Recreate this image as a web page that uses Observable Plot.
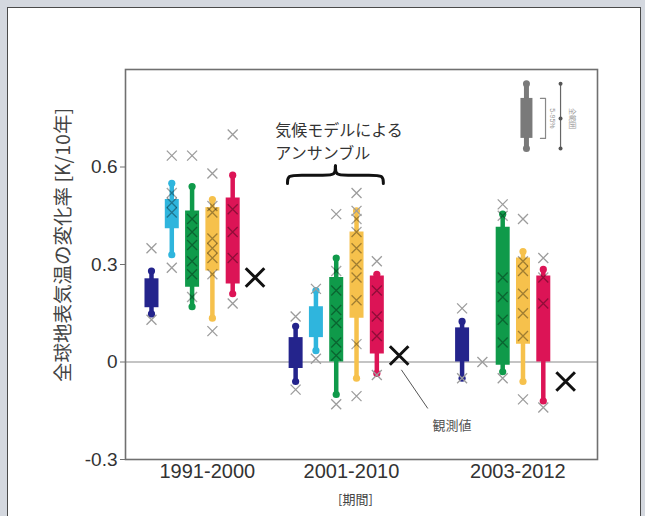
<!DOCTYPE html>
<html><head><meta charset="utf-8">
<script src="https://cdn.jsdelivr.net/npm/d3@7"></script>
<script src="https://cdn.jsdelivr.net/npm/@observablehq/plot@0.6"></script>
<style>
html,body{margin:0;padding:0;width:645px;height:516px;overflow:hidden;background:#d4d8df;}
#panel{position:absolute;left:7px;top:7px;width:632px;height:520px;background:#fff;border:1px solid #4a4a4a;}
#chart{position:absolute;left:0;top:0;}
</style></head><body>
<div id="panel"></div><div id="chart"></div>
<script>
// ---- data ----
const periods = ["1991-2000", "2001-2010", "2003-2012"];
const ensembleColors = ["#24248c", "#2fb5dd", "#0f9a4a", "#f6c14c", "#dc1456"];
// per period, per ensemble (null = no ensemble)
const boxMax  = [[0.28, 0.55, 0.54, 0.50, 0.575], [0.11, 0.22, 0.32, 0.465, 0.27], [0.125, null, 0.455, 0.34, 0.285]];
const boxHigh = [[0.256, 0.50, 0.465, 0.475, 0.505], [0.075, 0.17, 0.26, 0.40, 0.265], [0.105, null, 0.415, 0.32, 0.265]];
const boxLow  = [[0.167, 0.41, 0.23, 0.28, 0.24], [-0.02, 0.075, 0.0, 0.135, 0.025], [0.0, null, -0.01, 0.055, 0.0]];
const boxMin  = [[0.148, 0.33, 0.17, 0.135, 0.21], [-0.06, 0.035, -0.10, -0.05, -0.035], [-0.05, null, -0.03, -0.06, -0.12]];
// individual model runs outside the ranges: [period, ensemble, value]
const outlierRuns = [
  [0,0,0.35],[0,0,0.13],[0,1,0.635],[0,1,0.29],[0,2,0.635],[0,3,0.58],[0,3,0.095],[0,4,0.70],[0,4,0.18],
  [1,0,0.14],[1,0,-0.085],[1,1,0.225],[1,1,0.01],[1,2,0.455],[1,2,-0.13],[1,3,0.52],[1,3,0.465],[1,3,-0.105],[1,4,0.31],[1,4,-0.04],
  [2,0,0.165],[2,0,-0.05],[2,1,0.0],[2,2,0.485],[2,2,-0.05],[2,3,0.44],[2,3,-0.115],[2,4,0.32],[2,4,-0.14]
];
// individual model runs inside the ranges
const memberRuns = [
  [0,1,0.52],[0,1,0.49],[0,1,0.46],[0,2,0.44],[0,2,0.40],[0,2,0.36],[0,2,0.31],[0,2,0.27],[0,2,0.20],
  [0,3,0.48],[0,3,0.46],[0,3,0.38],[0,3,0.35],[0,3,0.32],[0,3,0.27],[0,4,0.47],[0,4,0.40],[0,4,0.32],
  [1,2,0.28],[1,2,0.22],[1,2,0.16],[1,2,0.12],[1,2,0.06],[1,2,0.02],
  [1,3,0.44],[1,3,0.40],[1,3,0.35],[1,3,0.30],[1,3,0.26],[1,3,0.19],[1,3,0.055],[1,4,0.22],[1,4,0.14],[1,4,0.08],
  [2,2,0.45],[2,2,0.26],[2,2,0.20],[2,2,0.13],[2,2,0.06],[2,3,0.31],[2,3,0.28],[2,3,0.21],[2,3,0.15],[2,3,0.08],[2,4,0.26],[2,4,0.18]
];
const observed = [0.26, 0.02, -0.06];
const yTicks = [-0.3, 0, 0.3, 0.6];
const yLabel = "全球地表気温の変化率 [K/10年]";
const xLabel = "[期間]";
const ensembleNote = "気候モデルによる\nアンサンブル";
const obsNote = "観測値";
const legendStats = {min: 0.657, low: 0.688, high: 0.811, max: 0.856};
const legendNotes = ["5-95%", "全範囲"];

// ---- layout ----
const groupStart = [0, 7.1, 15.3];
const obsOffset = 5.1;
const slot = (p, e) => groupStart[p] + e;

const boxes = [];
periods.forEach((p, pi) => ensembleColors.forEach((c, ei) => {
  if (boxMax[pi][ei] == null) return;
  boxes.push({x: slot(pi, ei), color: c, min: boxMin[pi][ei], low: boxLow[pi][ei], high: boxHigh[pi][ei], max: boxMax[pi][ei]});
}));
const outs = outlierRuns.map(([p, e, v]) => ({x: slot(p, e), y: v}));
const mems = memberRuns.map(([p, e, v]) => ({x: slot(p, e), y: v}));
const obs = observed.map((v, i) => ({x: groupStart[i] + obsOffset, y: v}));

// brace annotation geometry (around group 2)
const bc = 9.06, bhw = 2.36, by0 = 0.549, by1 = 0.575, by2 = 0.604;
const brace = [];
[-1, 1].forEach(s => {
  [[bc + s*bhw, by0], [bc + s*bhw, by1], [bc + s*(bhw-0.6), by1], [bc + s*0.5, by1], [bc, by1], [bc, by2]]
    .forEach(([x, y]) => brace.push({x, y, z: s}));
});
const lx = 18.47, bx1 = 19.16, bx2 = 19.41, vx = 20.15;
const legendBracket = [{x: bx1, y: legendStats.high}, {x: bx2, y: legendStats.high}, {x: bx2, y: legendStats.low}, {x: bx1, y: legendStats.low}];
const leader = [{x: obs[1].x + 0.12, y: obs[1].y - 0.045}, {x: 13.6, y: -0.142}];

const font = "'Liberation Sans', Arial, 'Noto Sans CJK JP', sans-serif";
const cjk = "'Noto Sans CJK JP', sans-serif";
const chart = Plot.plot({
  width: 645, height: 516,
  marginLeft: 125, marginRight: 48, marginTop: 69, marginBottom: 57,
  style: {background: "transparent", fontFamily: font},
  x: {domain: [-1.28, 21.97], axis: null},
  y: {domain: [-0.3, 0.9], axis: null},
  marks: [
    Plot.ruleY([0], {stroke: "#b0b0b0", strokeWidth: 1.5}),
    Plot.frame({stroke: "#707070", strokeWidth: 1.6}),
    Plot.axisY({ticks: yTicks, tickFormat: d => String(d), tickSize: 5, tickPadding: 3, fontSize: 19, stroke: "#707070", fill: "#333", label: null}),
    Plot.text([yLabel], {y: () => 0.36, frameAnchor: "left", textAnchor: "middle", dx: -62, rotate: -90, fontSize: 19.5, fill: "#444", fontFamily: cjk}),
    Plot.text(periods, {x: (d, i) => groupStart[i] + 2.75, frameAnchor: "bottom", dy: 18, fontSize: 20, fill: "#333"}),
    Plot.text([xLabel], {x: () => groupStart[1] + 2.95, frameAnchor: "bottom", dy: 44, fontSize: 13, fill: "#444", fontFamily: cjk}),
    // ensembles
    Plot.ruleX(boxes, {x: "x", y1: "min", y2: "max", stroke: "color", strokeWidth: 4.5}),
    Plot.ruleX(boxes, {x: "x", y1: "low", y2: "high", stroke: "color", strokeWidth: 14}),
    Plot.dot(boxes, {x: "x", y: "max", r: 3.6, fill: "color"}),
    Plot.dot(boxes, {x: "x", y: "min", r: 3.6, fill: "color"}),
    Plot.dot(mems, {x: "x", y: "y", symbol: "times", r: 4.6, stroke: "#000", strokeOpacity: 0.35, strokeWidth: 1.3}),
    Plot.dot(outs, {x: "x", y: "y", symbol: "times", r: 4.6, stroke: "#9c9c9c", strokeWidth: 1.3}),
    Plot.dot(obs, {x: "x", y: "y", symbol: "times", r: 8.5, stroke: "#111", strokeWidth: 3}),
    // annotations
    Plot.line(leader, {x: "x", y: "y", stroke: "#555", strokeWidth: 1}),
    Plot.text([obsNote], {x: () => 13.84, y: () => -0.197, textAnchor: "start", fontSize: 13, fill: "#555", fontFamily: cjk}),
    Plot.line(brace, {x: "x", y: "y", z: "z", curve: "basis", stroke: "#111", strokeWidth: 3}),
    Plot.text([ensembleNote], {x: () => 6.1, y: () => 0.745, textAnchor: "start", lineAnchor: "top", lineHeight: 1.42, fontSize: 16, fill: "#333", fontFamily: cjk}),
    // legend
    Plot.ruleX([legendStats], {x: () => lx, y1: "min", y2: "max", stroke: "#7a7a7a", strokeWidth: 5}),
    Plot.ruleX([legendStats], {x: () => lx, y1: "low", y2: "high", stroke: "#7a7a7a", strokeWidth: 12}),
    Plot.dot([legendStats.min, legendStats.max], {x: () => lx, y: d => d, r: 3.5, fill: "#7a7a7a"}),
    Plot.line(legendBracket, {x: "x", y: "y", stroke: "#888", strokeWidth: 1.2}),
    Plot.ruleX([legendStats], {x: () => vx, y1: "min", y2: "max", stroke: "#666", strokeWidth: 1.2}),
    Plot.dot([legendStats.min, legendStats.max, (legendStats.low + legendStats.high) / 2], {x: () => vx, y: d => d, r: 2, fill: "#555"}),
    Plot.text([legendNotes[0]], {x: () => 19.75, y: () => (legendStats.low + legendStats.high) / 2, rotate: 90, fontSize: 7, fill: "#999"}),
    Plot.text([legendNotes[1]], {x: () => 20.75, y: () => (legendStats.low + legendStats.high) / 2, rotate: 90, fontSize: 7, fill: "#999", fontFamily: cjk})
  ]
});
document.getElementById("chart").append(chart);
</script>
</body></html>
